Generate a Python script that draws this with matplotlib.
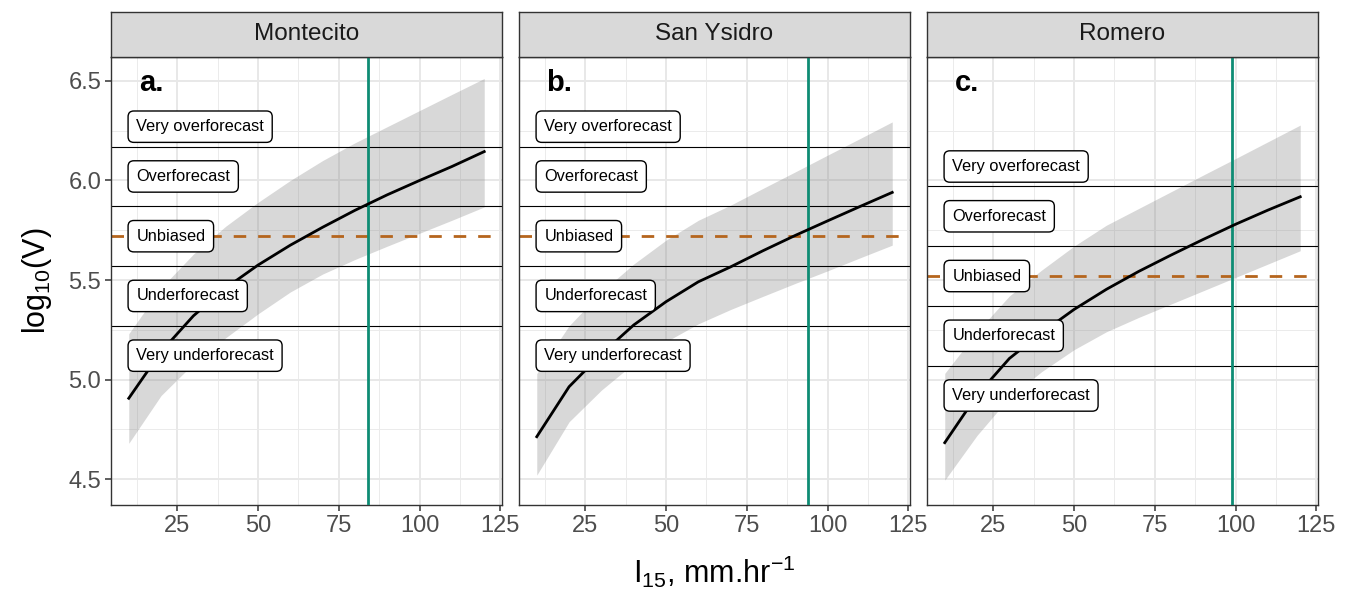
import numpy as np
import matplotlib
matplotlib.use("Agg")
import matplotlib.pyplot as plt

plt.rcParams['font.family'] = ['Liberation Sans', 'DejaVu Sans']
plt.rcParams['mathtext.fontset'] = 'custom'
plt.rcParams['mathtext.rm'] = 'Liberation Sans'
plt.rcParams['mathtext.it'] = 'Liberation Sans:italic'

# ---- data ----
sites = ['Montecito', 'San Ysidro', 'Romero']
panel_tags = ['a.', 'b.', 'c.']
intensity = [10, 20, 30, 40, 50, 60, 70, 80, 90, 100, 110, 120]

fit_montecito = [4.906, 5.14, 5.32, 5.46, 5.575, 5.675, 5.765, 5.85, 5.928, 6.0, 6.07, 6.145]
upr_montecito = [5.23, 5.46, 5.63, 5.77, 5.89, 6.0, 6.1, 6.189, 6.27, 6.351, 6.432, 6.512]
lwr_montecito = [4.68, 4.92, 5.08, 5.21, 5.33, 5.44, 5.53, 5.603, 5.67, 5.735, 5.80, 5.867]

fit_sanysidro = [4.713, 4.964, 5.128, 5.274, 5.391, 5.491, 5.566, 5.647, 5.724, 5.797, 5.869, 5.94]
upr_sanysidro = [5.03, 5.27, 5.44, 5.58, 5.70, 5.80, 5.876, 5.96, 6.043, 6.127, 6.21, 6.294]
lwr_sanysidro = [4.52, 4.788, 4.947, 5.081, 5.19, 5.28, 5.352, 5.418, 5.483, 5.546, 5.611, 5.675]

fit_romero = [4.683, 4.922, 5.106, 5.235, 5.352, 5.453, 5.543, 5.625, 5.704, 5.78, 5.851, 5.918]
upr_romero = [5.031, 5.24, 5.42, 5.55, 5.67, 5.775, 5.859, 5.943, 6.027, 6.11, 6.194, 6.278]
lwr_romero = [4.495, 4.72, 4.91, 5.04, 5.15, 5.24, 5.312, 5.379, 5.446, 5.513, 5.58, 5.647]

# unbiased log10(V) per site and the observed I15 (vertical line)
unbiased = [5.72, 5.72, 5.52]
observed_i15 = [84, 94, 99]
band_edges = [-0.45, -0.15, 0.15, 0.45]
band_names = ['Very underforecast', 'Underforecast', 'Unbiased', 'Overforecast', 'Very overforecast']
band_label_pos = [-0.6, -0.3, 0.0, 0.3, 0.55]

fits = [fit_montecito, fit_sanysidro, fit_romero]
uprs = [upr_montecito, upr_sanysidro, upr_romero]
lwrs = [lwr_montecito, lwr_sanysidro, lwr_romero]

# ---- layout ----
W, H = 1353, 594
fig = plt.figure(figsize=(W / 100, H / 100), dpi=100)

panel_left = [111, 519, 927]
panel_w = 391
ax_bottom = 1 - 505 / H
ax_height = 448 / H
strip_h = 45 / H

green = '#0e8c74'
brown = '#b5651d'

for i in range(3):
    ax = fig.add_axes([panel_left[i] / W, ax_bottom, panel_w / W, ax_height])
    ax.set_xlim(4.5, 125.5)
    ax.set_ylim(4.37, 6.62)

    ax.set_xticks([25, 50, 75, 100, 125])
    ax.set_xticks([12.5, 37.5, 62.5, 87.5, 112.5], minor=True)
    ax.set_yticks([4.5, 5.0, 5.5, 6.0, 6.5])
    ax.set_yticks([4.75, 5.25, 5.75, 6.25], minor=True)
    ax.grid(which='major', color='#e8e8e8', linewidth=1.4, zorder=0)
    ax.grid(which='minor', color='#ebebeb', linewidth=0.7, zorder=0)
    ax.set_axisbelow(True)
    ax.tick_params(which='minor', length=0)
    ax.tick_params(which='major', length=4, width=1.1, color='#333333',
                   labelsize=17, labelcolor='#4d4d4d', pad=3)
    if i > 0:
        ax.tick_params(axis='y', left=False, labelleft=False)
    for sp in ax.spines.values():
        sp.set_color('#333333')
        sp.set_linewidth(1.0)

    ax.fill_between(intensity, lwrs[i], uprs[i], color='#7f7f7f', alpha=0.3,
                    linewidth=0, zorder=1)
    for e in band_edges:
        ax.axhline(unbiased[i] + e, color='black', linewidth=0.8, zorder=2)
    ax.axhline(unbiased[i], color=brown, linewidth=2.0, dashes=(4.5, 4.3), zorder=2)
    ax.axvline(observed_i15[i], color=green, linewidth=2.0, zorder=3)
    ax.plot(intensity, fits[i], color='black', linewidth=2.0, zorder=4)

    for name, off in zip(band_names, band_label_pos):
        ax.annotate(name, xy=(10, unbiased[i] + off), xytext=(5.4, 0),
                    textcoords='offset points', ha='left', va='center',
                    fontsize=11.8, color='black', zorder=6,
                    bbox=dict(boxstyle='round,pad=0.5,rounding_size=0.35',
                              fc='white', ec='black', lw=1.0))

    ax.text(17, 6.49, panel_tags[i], fontsize=21, fontweight='bold',
            ha='center', va='center', zorder=6)

    # facet strip
    sax = fig.add_axes([panel_left[i] / W, ax_bottom + ax_height, panel_w / W, strip_h])
    sax.set_facecolor('#d9d9d9')
    sax.set_xticks([])
    sax.set_yticks([])
    for sp in sax.spines.values():
        sp.set_color('#333333')
        sp.set_linewidth(1.0)
    sax.text(0.5, 0.5, sites[i], transform=sax.transAxes, ha='center', va='center',
             fontsize=17.5, color='#1a1a1a')

fig.text(37 / W, 1 - 281 / H, r'log$_{10}$(V)', rotation=90, ha='center', va='center',
         fontsize=22, color='black')
fig.text(714.5 / W, 1 - 572 / H, r'I$_{15}$, mm.hr$^{-1}$', ha='center', va='center',
         fontsize=22, color='black')

fig.savefig('out.png', dpi=100)
